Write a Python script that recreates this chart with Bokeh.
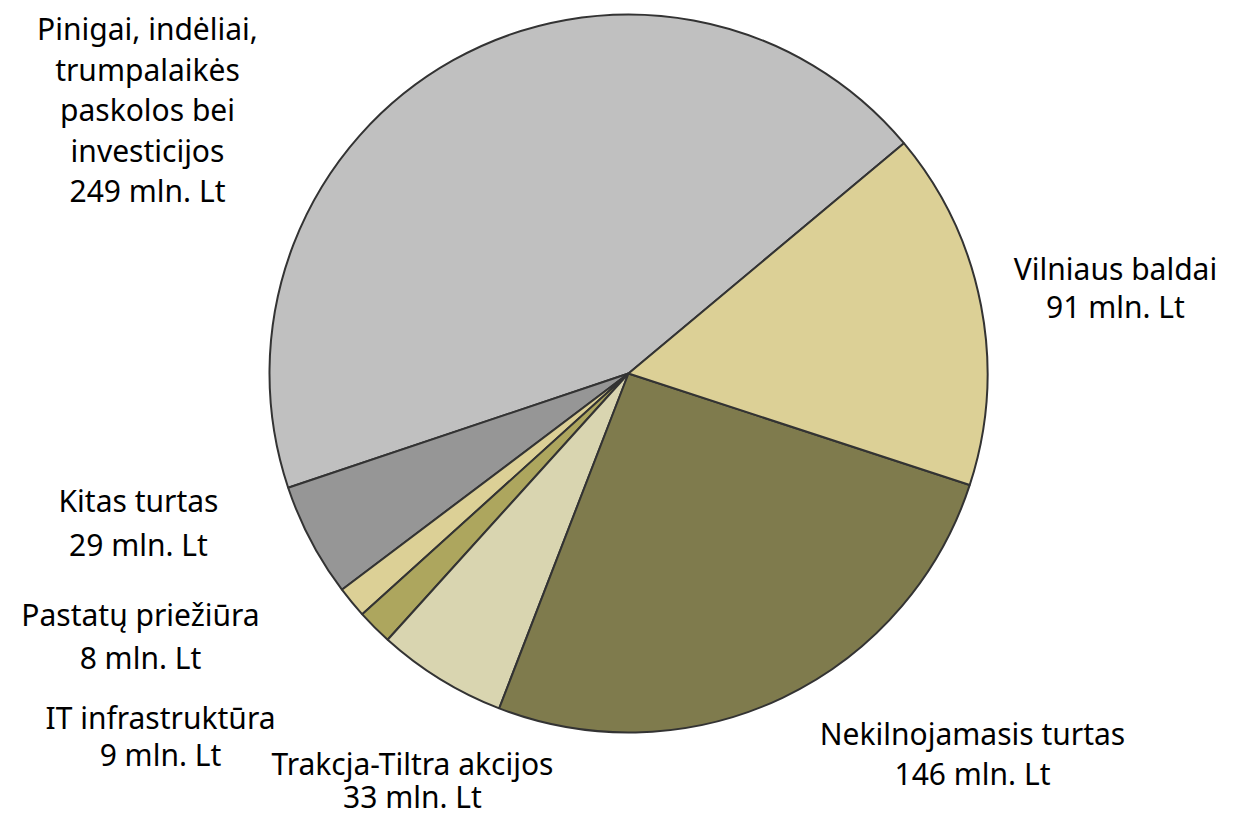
import math
from bokeh.plotting import figure
from bokeh.models import Range1d, ColumnDataSource
from bokeh.core.properties import value
from bokeh.embed import file_html
from bokeh.resources import INLINE

# Data (counter-clockwise order starting at the top-right boundary)
categories = ["Pinigai, indėliai,\ntrumpalaikės\npaskolos bei\ninvesticijos",
              "Kitas turtas", "Pastatų priežiūra", "IT infrastruktūra",
              "Trakcja-Tiltra akcijos", "Nekilnojamasis turtas", "Vilniaus baldai"]
values = [249, 29, 8, 9, 33, 146, 91]
colors = ["#C0C0C0", "#969696", "#DCD096", "#ADA65E", "#D9D5B0", "#7F7B4D", "#DCD096"]
unit = "mln. Lt"

# label anchor positions (page pixels: centre x, first-line centre y)
label_x = [147, 138, 140, 160, 412, 972, 1115]
label_y = [28, 500, 614, 717, 763, 733, 268]
line_gap = [40.5, 44, 43, 37, 33, 40, 38]

W, H = 1220, 818
cx, cy, R = 628, H - 373, 359
start = math.radians(39.9)

total = sum(values)
starts, ends = [], []
a = start
for v in values:
    starts.append(a)
    a += v / total * 2 * math.pi
    ends.append(a)

p = figure(width=W, height=H, output_backend="svg", toolbar_location=None,
           x_range=Range1d(0, W), y_range=Range1d(0, H),
           min_border=0, outline_line_color=None)
p.axis.visible = False
p.grid.visible = False
p.background_fill_color = "white"
p.border_fill_color = "white"

src = ColumnDataSource(dict(x=[cx] * len(values), y=[cy] * len(values),
                            s=starts, e=ends, c=colors))
p.wedge(x="x", y="y", radius=R, start_angle="s", end_angle="e",
        fill_color="c", line_color="#333333", line_width=2, source=src)

xs, ys, ts = [], [], []
for cat, v, lx, ly, g in zip(categories, values, label_x, label_y, line_gap):
    lines = cat.split("\n") + [f"{v} {unit}"]
    for i, t in enumerate(lines):
        xs.append(lx)
        ys.append(H - (ly + i * g))
        ts.append(t)

p.text(x=xs, y=ys, text=ts, text_align="center", text_baseline="middle",
       text_font=value("Noto Sans"), text_font_size="30px", text_color="#000000")

open("out.html", "w").write(file_html(p, INLINE))
